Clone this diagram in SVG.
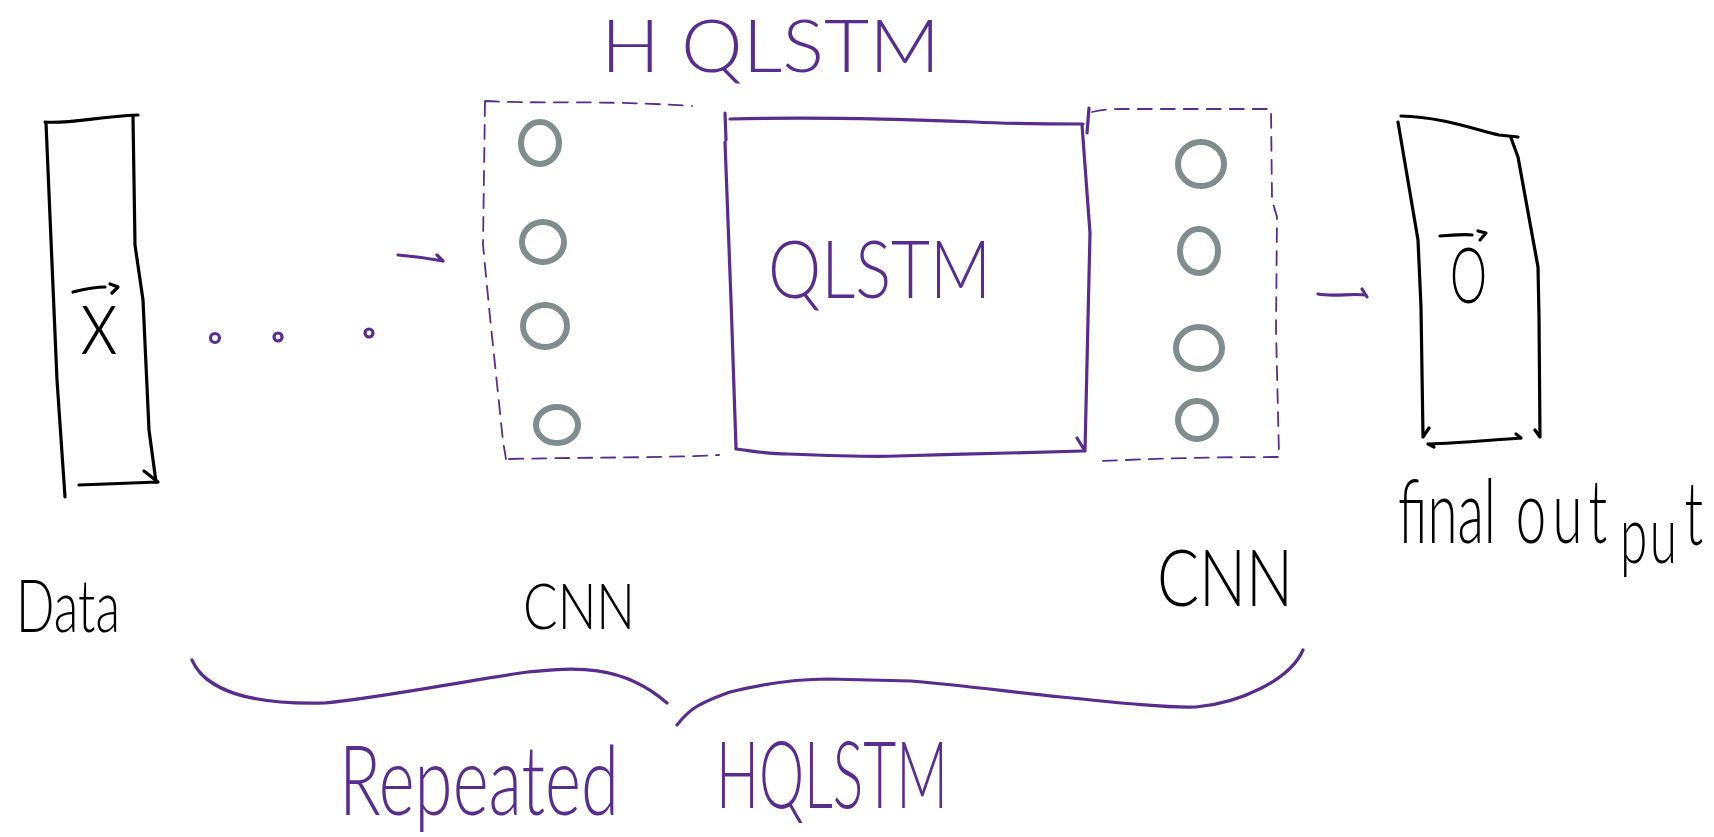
<svg xmlns="http://www.w3.org/2000/svg" width="1714" height="837" viewBox="0 0 1714 837">
  <style>
    .ink { fill: none; stroke: #000; stroke-width: 3.2; stroke-linecap: round; stroke-linejoin: round; }
    .pen { fill: none; stroke: #592c90; stroke-width: 3.2; stroke-linecap: round; stroke-linejoin: round; }
    .dash { fill: none; stroke: #592c90; stroke-width: 1.8; stroke-dasharray: 14 9; stroke-linecap: round; }
    .unit { fill: none; stroke: #7f8d8f; stroke-width: 6; }
    .hand { font-family: "Lato", "Liberation Sans", sans-serif; font-weight: 300; }
    .black { fill: #000; }
    .violet { fill: #592c90; }
  </style>

  <rect width="1714" height="837" fill="#fff"/>

  <!-- input vector -->
  <g id="data">
    <path class="ink" d="M45,122 C70,124 95,117 138,115"/>
    <path class="ink" d="M46,123 L51,240 L57,380 L65,497"/>
    <path class="ink" d="M133,117 L135,245 L143,300 L149,430 L156,482"/>
    <path class="ink" d="M79,485 L158,482 M144,471 L158,482"/>
    <path class="ink" d="M73,292 C85,289 95,287 105,287 M110,284 L118,287 L112,293"/>
    <text class="hand black" x="80" y="354" font-size="96" textLength="38" lengthAdjust="spacingAndGlyphs">x</text>
    <text class="hand black" x="16" y="632" font-size="72" textLength="104" lengthAdjust="spacingAndGlyphs">Data</text>
  </g>

  <!-- ellipsis dots -->
  <g id="dots">
    <circle class="pen" cx="215" cy="338" r="4.5"/>
    <circle class="pen" cx="278" cy="337" r="4"/>
    <circle class="pen" cx="369" cy="333" r="4"/>
  </g>

  <!-- title -->
  <g id="title">
    <text class="hand violet" x="601" y="72" font-size="72" textLength="339" lengthAdjust="spacingAndGlyphs">H QLSTM</text>
  </g>

  <!-- input CNN layer -->
  <g id="cnn-in">
    <path class="dash" d="M485,101 C540,104 600,100 692,106 M485,102 L483,245 L490,317 L503,441 L506,459 M509,459 C600,457 660,458 719,455"/>
    <ellipse class="unit" cx="540" cy="143" rx="19" ry="21"/>
    <ellipse class="unit" cx="543" cy="242" rx="21" ry="20"/>
    <ellipse class="unit" cx="545" cy="326" rx="22" ry="21"/>
    <ellipse class="unit" cx="557" cy="425" rx="21" ry="18"/>
    <text class="hand black" x="523" y="629" font-size="64" textLength="112" lengthAdjust="spacingAndGlyphs">CNN</text>
  </g>

  <!-- QLSTM cell -->
  <g id="qlstm">
    <path class="pen" d="M730,119 C800,117 900,119 975,122 C1010,124 1050,124 1083,124"/>
    <path class="pen" d="M725,113 L726,140 M725,142 L731,300 L736,448"/>
    <path class="pen" d="M1089,108 L1087,133 M1082,125 L1090,233 L1085,450 M1077,438 L1085,451"/>
    <path class="pen" d="M736,449 C760,452 770,454 788,454 C840,456 870,457 897,456 C960,454 1030,453 1083,451"/>
    <text class="hand violet" x="768" y="298" font-size="80" textLength="223" lengthAdjust="spacingAndGlyphs">QLSTM</text>
  </g>

  <!-- output CNN layer -->
  <g id="cnn-out">
    <path class="dash" d="M1092,112 C1100,110 1110,109 1119,109 L1271,109 L1271,110 L1272,200 L1277,217 L1276,330 L1279,455 L1279,457 C1200,457 1150,459 1100,461"/>
    <ellipse class="unit" cx="1201" cy="164" rx="23" ry="22"/>
    <ellipse class="unit" cx="1199" cy="251" rx="19" ry="22"/>
    <ellipse class="unit" cx="1199" cy="348" rx="23" ry="21"/>
    <ellipse class="unit" cx="1197" cy="420" rx="19" ry="19"/>
    <text class="hand black" x="1157" y="606" font-size="78" textLength="136" lengthAdjust="spacingAndGlyphs">CNN</text>
  </g>

  <!-- output vector -->
  <g id="output">
    <path class="ink" d="M1401,116 C1440,117 1470,128 1499,135 L1518,137"/>
    <path class="ink" d="M1398,122 L1418,240 L1421,307 L1423,437 M1429,428 L1423,437"/>
    <path class="ink" d="M1511,138 L1518,157 L1538,267 L1539,317 L1540,437 M1535,430 L1540,437"/>
    <path class="ink" d="M1428,444 C1460,443 1490,440 1521,438 M1516,434 L1521,438 M1428,444 L1434,447"/>
    <path class="ink" d="M1440,236 C1455,235 1465,234 1472,235 M1478,231 L1486,233 L1480,240"/>
    <text class="hand black" x="1450" y="303" font-size="76" textLength="37" lengthAdjust="spacingAndGlyphs">O</text>
    <!-- narrow handwriting: one line, squeezed horizontally -->
    <text class="hand black" font-size="88" transform="translate(1398,543) scale(0.62,1)"><tspan x="0" y="0">final</tspan><tspan x="190" y="0" letter-spacing="10">out</tspan><tspan x="358" y="20" font-size="80" letter-spacing="4">pu</tspan><tspan x="462" y="2">t</tspan></text>
  </g>

  <!-- connectors and grouping brace -->
  <g id="connectors">
    <path class="pen" d="M398,255 C420,257 432,259 443,261 M437,255 L443,261"/>
    <path class="pen" d="M1318,294 C1335,297 1350,293 1366,295 M1362,289 L1367,297"/>
    <path class="pen" d="M192,660 C205,690 250,705 325,703 C380,698 470,680 528,672 C570,668 620,662 667,703"/>
    <path class="pen" d="M677,725 C690,708 700,703 730,692 C770,682 800,679 828,679 L911,681 C970,686 1010,692 1061,697 C1120,703 1170,708 1196,707 C1240,703 1290,680 1303,650"/>
    <text class="hand violet" x="339" y="815" font-size="96" textLength="280" lengthAdjust="spacingAndGlyphs">Repeated</text>
    <text class="hand violet" x="716" y="808" font-size="92" textLength="232" lengthAdjust="spacingAndGlyphs">HQLSTM</text>
  </g>
</svg>
